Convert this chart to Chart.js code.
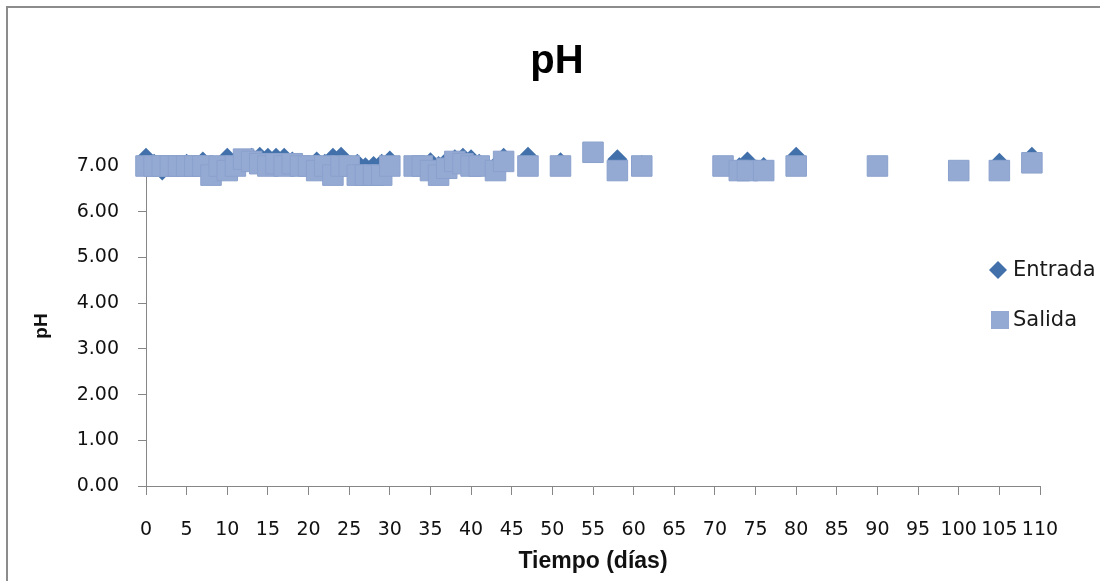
<!DOCTYPE html>
<html lang="es">
<head>
<meta charset="utf-8">
<title>pH</title>
<script src="https://cdn.jsdelivr.net/npm/chart.js@4"></script>
<style>
  html, body { margin: 0; padding: 0; background: #fff; overflow: hidden; }
  #wrap { position: relative; width: 1100px; height: 581px; }
  /* marco gris del gráfico (se sale por la derecha y por abajo) */
  #frame {
    position: absolute; left: 6px; top: 6px; width: 1200px; height: 700px;
    border: 2px solid #8c8c8c; box-sizing: border-box;
  }
  #chart { position: absolute; left: 0; top: 0; }
</style>
</head>
<body>
<div id="wrap">
  <div id="frame"></div>
  <canvas id="chart" width="1100" height="581"></canvas>
</div>
<script>
// --- datos ---
const entradaDias = [0, 1, 2, 3, 4, 5, 6, 7, 8, 9, 10, 11, 12, 13, 14, 15, 16, 17, 18, 19,
  20, 21, 22, 23, 24, 25, 26, 27, 28, 29, 30, 33, 35, 36, 37, 38, 39, 40, 41, 43, 44,
  47, 51, 55, 58, 61, 71, 73, 74, 76, 80, 90, 100, 105, 109];
const entradaPH = [7.18, 7.05, 6.9, 7.0, 7.0, 7.05, 7.3, 7.1, 7.0, 7.3, 7.18, 7.1, 7.3, 7.18, 7.2, 7.18, 7.18, 7.18, 7.1, 7.22,
  7.33, 7.1, 7.05, 7.18, 7.2, 7.3, 7.05, 6.97, 7.0, 7.05, 7.12, 7.0, 7.08, 7.0, 7.1, 7.15, 7.18, 7.15, 7.05, 7.0, 7.18,
  7.2, 7.08, 7.3, 7.15, 7.02, 7.0, 6.97, 7.1, 6.98, 7.2, 7.0, 6.9, 7.07, 7.2];

const salidaDias = [0, 1, 2, 3, 4, 5, 6, 7, 8, 9, 10, 11, 12, 13, 14, 15, 16, 17, 18, 19,
  20, 21, 22, 23, 24, 25, 26, 27, 28, 29, 30, 33, 34, 35, 36, 37, 38, 39, 40, 41, 43, 44,
  47, 51, 55, 58, 61, 71, 73, 74, 76, 80, 90, 100, 105, 109];
const salidaPH = [7.0, 7.0, 7.0, 7.0, 7.0, 7.0, 7.0, 7.0, 6.8, 7.0, 6.9, 7.0, 7.15, 7.1, 7.05, 7.0, 7.05, 7.0, 7.05, 7.0,
  7.0, 6.9, 7.0, 6.8, 7.0, 7.0, 6.8, 6.8, 6.8, 6.8, 7.0, 7.0, 7.0, 6.9, 6.8, 6.95, 7.1, 7.05, 7.0, 7.0, 6.9, 7.1,
  7.0, 7.0, 7.3, 6.9, 7.0, 7.0, 6.9, 6.9, 6.9, 7.0, 7.0, 6.9, 6.9, 7.07];

const titulo = 'pH';
const tituloX = 'Tiempo (días)';
const tituloY = 'pH';
const nombresSeries = ['Entrada', 'Salida'];

const colorEntrada = '#4170aa';
const colorSalida = '#95aad3';
const colorEje = '#868686';

function puntos(xs, ys) {
  return xs.map((x, i) => ({ x: x, y: ys[i] }));
}

// título y leyenda dibujados a mano (la leyenda se superpone al área del gráfico)
const extras = {
  id: 'extras',
  afterDraw(chart) {
    const ctx = chart.ctx;
    ctx.save();
    ctx.fillStyle = '#000';
    ctx.font = 'bold 40px "Liberation Sans", Arial, sans-serif';
    ctx.textAlign = 'center';
    ctx.textBaseline = 'middle';
    ctx.fillText(titulo, 557, 62);

    // leyenda
    ctx.font = '21px "DejaVu Sans", sans-serif';
    ctx.textAlign = 'left';
    ctx.fillStyle = colorEntrada;
    ctx.beginPath();
    ctx.moveTo(998, 261); ctx.lineTo(1007, 270); ctx.lineTo(998, 279); ctx.lineTo(989, 270);
    ctx.closePath(); ctx.fill();
    ctx.fillStyle = colorSalida;
    ctx.fillRect(991, 311, 18, 18);
    ctx.fillStyle = '#1a1a1a';
    ctx.fillText(nombresSeries[0], 1013, 271);
    ctx.fillText(nombresSeries[1], 1013, 321);
    ctx.restore();
  }
};

new Chart(document.getElementById('chart'), {
  type: 'scatter',
  data: {
    datasets: [{
      label: nombresSeries[0],
      data: puntos(entradaDias, entradaPH),
      pointStyle: 'rectRot',
      pointRadius: 10,
      pointHoverRadius: 10,
      backgroundColor: colorEntrada,
      borderWidth: 0,
      clip: false,
      order: 2
    }, {
      label: nombresSeries[1],
      data: puntos(salidaDias, salidaPH),
      pointStyle: 'rect',
      pointRadius: 14.5,
      pointHoverRadius: 14.5,
      backgroundColor: colorSalida,
      borderColor: '#8aa1cd',
      borderWidth: 1,
      clip: false,
      order: 1
    }]
  },
  options: {
    responsive: false,
    animation: false,
    events: [],
    layout: { padding: { top: 166, left: 30, right: 60, bottom: 4 } },
    plugins: {
      legend: { display: false },
      tooltip: { enabled: false }
    },
    scales: {
      x: {
        type: 'linear',
        min: 0,
        max: 110,
        afterFit(scale) { scale.height = 91; },
        grid: { drawOnChartArea: false, drawTicks: true, tickLength: 9, color: colorEje },
        border: { color: colorEje, width: 1 },
        ticks: {
          stepSize: 5,
          autoSkip: false,
          maxRotation: 0,
          padding: 24,
          color: '#111',
          font: { family: '"DejaVu Sans", sans-serif', size: 19 }
        },
        title: {
          display: true,
          text: tituloX,
          color: '#111',
          padding: { top: 0, bottom: 2 },
          font: { family: '"Liberation Sans", Arial, sans-serif', size: 23, weight: 'bold' }
        }
      },
      y: {
        min: 0,
        max: 7,
        afterFit(scale) { scale.width = 116; },
        grid: { drawOnChartArea: false, drawTicks: true, tickLength: 8, color: colorEje },
        border: { color: colorEje, width: 1 },
        ticks: {
          stepSize: 1,
          padding: 19,
          color: '#111',
          font: { family: '"DejaVu Sans", sans-serif', size: 19 },
          callback: v => v.toFixed(2)
        },
        title: {
          display: true,
          text: tituloY,
          color: '#111',
          padding: { top: 0, bottom: 0 },
          font: { family: '"Liberation Sans", Arial, sans-serif', size: 19, weight: 'bold' }
        }
      }
    }
  },
  plugins: [extras]
});
</script>
</body>
</html>
